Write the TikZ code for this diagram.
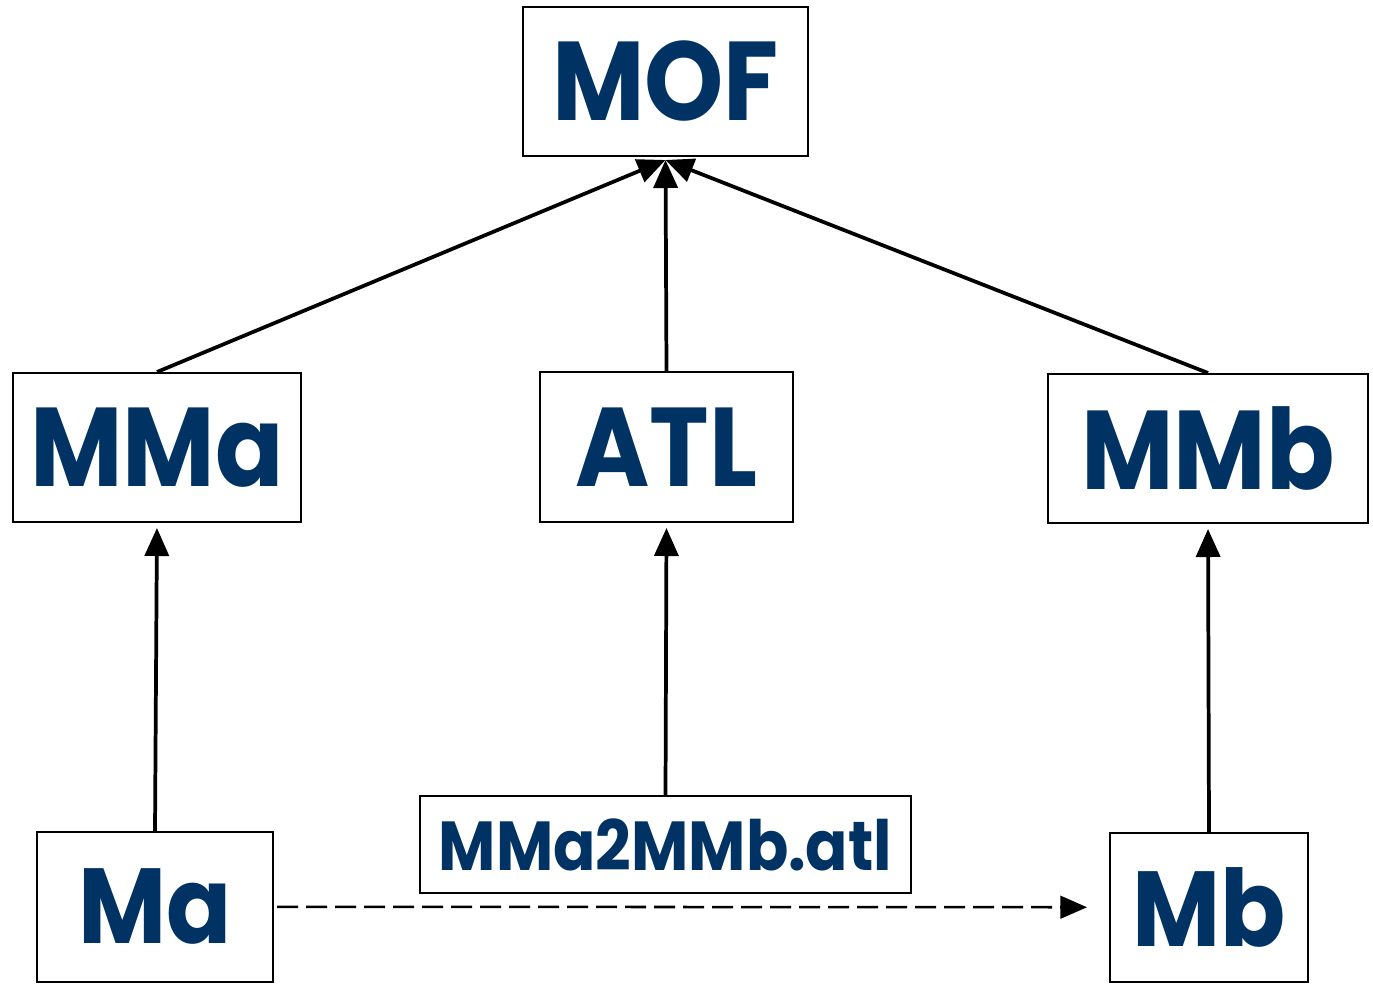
\documentclass[tikz,border=0pt]{standalone}
\usepackage{fontspec}
\setmainfont{Poppins}[FakeStretch=0.9]
\usetikzlibrary{arrows.meta}
\definecolor{txtblue}{RGB}{0,50,100}
\begin{document}
\begin{tikzpicture}[x=0.75pt,y=-0.75pt,
  box/.style={draw=black, line width=1.5pt, fill=white, inner sep=0pt, align=center,
    text=txtblue, font=\fontsize{84}{84}\selectfont\bfseries},
  mid/.style={font=\fontsize{80}{80}\selectfont\bfseries},
  small/.style={font=\fontsize{52}{52}\selectfont\bfseries},
  conn/.style={line width=2.8pt, -{Triangle[length=21pt,width=18pt]}},
  dconn/.style={line width=1.9pt, dash pattern=on 15.75pt off 6pt, -{Triangle[length=20pt,width=17pt]}}
]
\useasboundingbox (0,0) rectangle (1373,983);
\fill[white] (0,0) rectangle (1373,983);
\node[box, minimum width=213.75pt, minimum height=111.75pt] (MOF) at (665.5,81.5) {MOF};
\node[box, minimum width=216pt, minimum height=111.75pt] (MMa) at (157,447.5) {MMa};
\node[box, minimum width=189.75pt, minimum height=112.5pt] (ATL) at (666.5,447) {ATL};
\node[box, minimum width=240pt, minimum height=111.75pt] (MMb) at (1208,448.5) {MMb};
\node[box, mid, minimum width=177pt, minimum height=112.125pt] (Ma) at (155,906.75) {Ma};
\node[box, small, minimum width=368.25pt, minimum height=72.75pt] (T) at (665.5,844.5) {MMa2MMb.atl};
\node[box, mid, minimum width=148.5pt, minimum height=111.375pt] (Mb) at (1209,907.25) {Mb};
\coordinate (tip) at (665.5,160);
\draw[conn] (MMa.north) -- (tip);
\draw[conn] (ATL.north) -- (tip);
\draw[conn] (MMb.north) -- (tip);
\draw[conn, shorten >=3.75pt] (Ma.north) -- (MMa.south);
\draw[conn, shorten >=3.75pt] (T.north) -- (ATL.south);
\draw[conn, shorten >=3.75pt] (Mb.north) -- (MMb.south);
\draw[dconn, shorten <=2.25pt, shorten >=16.5pt] (Ma.east) -- (Mb.west);
\end{tikzpicture}
\end{document}
